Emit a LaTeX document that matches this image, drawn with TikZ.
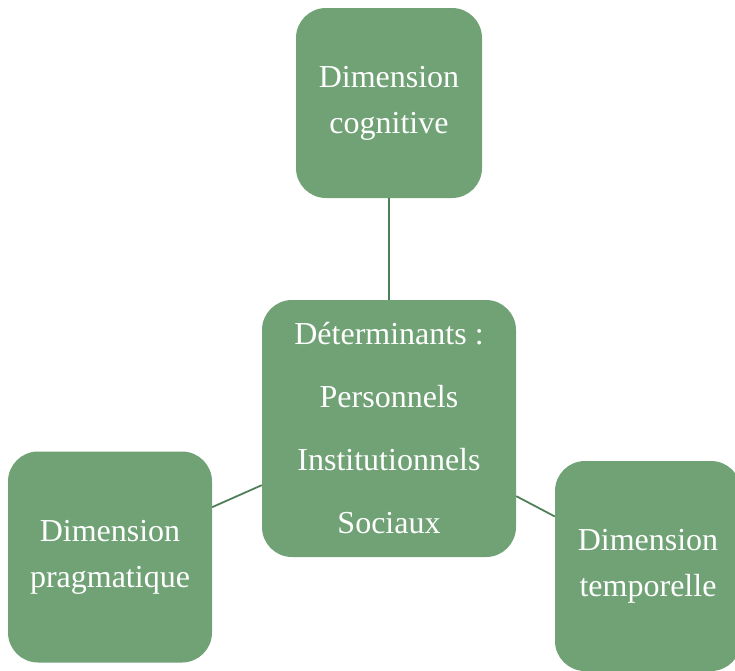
\documentclass[tikz,border=0pt]{standalone}
\usepackage{fontspec}
\setmainfont{Liberation Serif}
\definecolor{boxgreen}{HTML}{70A276}
\definecolor{linkgreen}{HTML}{4F7F59}
\tikzset{
 dimbox/.style={fill=boxgreen, rounded corners=30pt, text=white, align=center,
   font=\fontsize{32}{46}\selectfont, inner sep=0pt},
 link/.style={draw=linkgreen, line width=1.8pt}
}

\begin{document}
\begin{tikzpicture}[x=1pt, y=-1pt]
 \useasboundingbox (0,0) rectangle (735,670);
 \clip (0,0) rectangle (735,670);

 \node[dimbox, minimum width=186pt, minimum height=190pt] (TOP) at (389,103) {Dimension\\cognitive};
 \node[dimbox, minimum width=254pt, minimum height=257pt, font=\fontsize{32}{63}\selectfont] (MID) at (389,428.5)
   {D\'eterminants :\\Personnels\\Institutionnels\\Sociaux};
 \node[dimbox, minimum width=204pt, minimum height=211pt] (LEFT) at (110,557) {Dimension\\pragmatique};
 \node[dimbox, minimum width=186pt, minimum height=210pt] (RIGHT) at (648,566) {Dimension\\temporelle};

 \draw[link] (TOP) -- (MID);
 \draw[link] (LEFT.26) -- (MID.204.4);
 \draw[link] (MID.-28) -- (RIGHT.152);
\end{tikzpicture}
\end{document}
